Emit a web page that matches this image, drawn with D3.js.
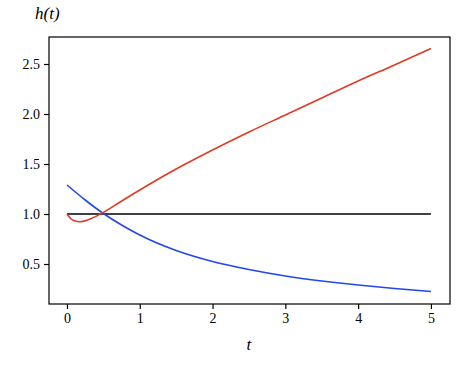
<!DOCTYPE html>
<html><head><meta charset="utf-8">
<script src="https://cdn.jsdelivr.net/npm/d3@7"></script>
<style>body{margin:0;background:#fff}svg{display:block}
text{font-family:"Liberation Serif","Times New Roman","DejaVu Serif",Times,serif}</style>
</head><body><div id="c"></div>
<script>
const xTicks = [0,1,2,3,4,5];
const yTicks = [0.5,1.0,1.5,2.0,2.5];
const tRed = [0,0.05,0.1,0.18,0.3,0.46,0.73,1,1.5,2,2.5,3,3.5,4,4.5,5];
const hRed = [1.0,0.955,0.932,0.923,0.945,1.0,1.12,1.24,1.45,1.64,1.82,1.99,2.16,2.33,2.49,2.655];
const tBlue = [0,0.25,0.5,0.75,1,1.5,2,2.5,3,3.5,4,4.5,5];
const hBlue = [1.29,1.14,1.005,0.89,0.79,0.635,0.525,0.445,0.38,0.33,0.29,0.255,0.225];
const tBlack = [0,5];
const hBlack = [1,1];

const W=464,H=367;
const m={l:49,r:14,t:37,b:63};
const svg=d3.select("#c").append("svg").attr("width",W).attr("height",H);
const x=d3.scaleLinear().domain([-0.247,5.262]).range([m.l,W-m.r]);
const y=d3.scaleLinear().domain([0.1,2.77]).range([H-m.b,m.t]);

const line=d3.line().x(d=>x(d[0])).y(d=>y(d[1])).curve(d3.curveMonotoneX);
function draw(ts,hs,col){
  svg.append("path").datum(ts.map((t,i)=>[t,hs[i]])).attr("d",line)
    .attr("fill","none").attr("stroke",col).attr("stroke-width",1.6);
}
draw(tBlack,hBlack,"#000");
draw(tBlue,hBlue,"#2347ee");
draw(tRed,hRed,"#e03a22");

const xa=svg.append("g").attr("transform",`translate(0,${H-m.b})`)
  .call(d3.axisBottom(x).tickValues(xTicks).tickFormat(d3.format("d")).tickSizeOuter(0).tickSize(5).tickPadding(4));
const ya=svg.append("g").attr("transform",`translate(${m.l},0)`)
  .call(d3.axisLeft(y).tickValues(yTicks).tickFormat(d3.format(".1f")).tickSizeOuter(0).tickSize(5).tickPadding(4));
[xa,ya].forEach(a=>{a.attr("font-family",null);a.select(".domain").remove();a.selectAll("line").attr("stroke","#000").attr("stroke-width",1.2);
  a.selectAll("text").attr("font-size",14).attr("fill","#000");});

svg.append("rect").attr("x",m.l).attr("y",m.t).attr("width",W-m.r-m.l).attr("height",H-m.b-m.t)
  .attr("fill","none").attr("stroke","#000").attr("stroke-width",1.2);

svg.append("text").attr("x",35).attr("y",19).attr("font-size",17).attr("font-style","italic").text("h(t)");
svg.append("text").attr("x",x(2.5)).attr("y",350).attr("text-anchor","middle").attr("font-size",17).attr("font-style","italic").text("t");
</script></body></html>
